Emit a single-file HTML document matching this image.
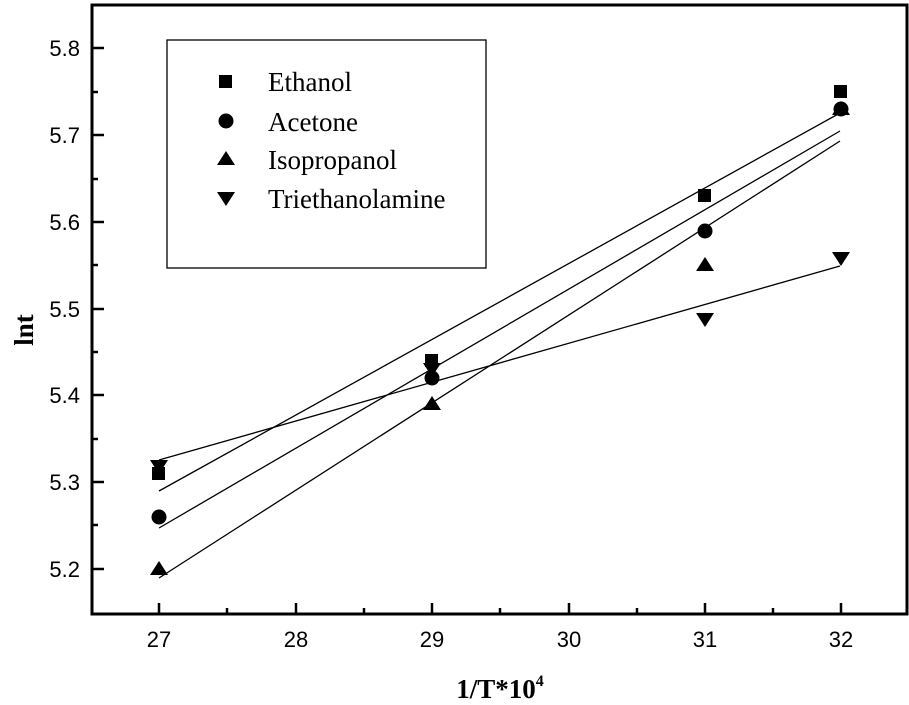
<!DOCTYPE html>
<html><head><style>body{margin:0;background:#fff}svg{display:block}</style></head><body>
<svg width="909" height="705" xmlns="http://www.w3.org/2000/svg">
<rect x="92" y="5" width="815" height="609" fill="none" stroke="#000" stroke-width="3"/>
<g stroke="#000" stroke-width="2.5">
<line x1="159" y1="614" x2="159" y2="603"/><line x1="296" y1="614" x2="296" y2="603"/><line x1="432" y1="614" x2="432" y2="603"/><line x1="569" y1="614" x2="569" y2="603"/><line x1="705" y1="614" x2="705" y2="603"/><line x1="841" y1="614" x2="841" y2="603"/>
<line x1="227" y1="614" x2="227" y2="608"/><line x1="364" y1="614" x2="364" y2="608"/><line x1="500" y1="614" x2="500" y2="608"/><line x1="637" y1="614" x2="637" y2="608"/><line x1="773" y1="614" x2="773" y2="608"/>
<line x1="92" y1="569" x2="104" y2="569"/><line x1="92" y1="482" x2="104" y2="482"/><line x1="92" y1="395" x2="104" y2="395"/><line x1="92" y1="309" x2="104" y2="309"/><line x1="92" y1="222" x2="104" y2="222"/><line x1="92" y1="135" x2="104" y2="135"/><line x1="92" y1="48" x2="104" y2="48"/>
<line x1="92" y1="525" x2="98" y2="525"/><line x1="92" y1="439" x2="98" y2="439"/><line x1="92" y1="352" x2="98" y2="352"/><line x1="92" y1="265" x2="98" y2="265"/><line x1="92" y1="179" x2="98" y2="179"/><line x1="92" y1="92" x2="98" y2="92"/>
</g>
<g font-family="Liberation Sans, sans-serif" font-size="22" text-anchor="middle">
<text x="159" y="647">27</text><text x="296" y="647">28</text><text x="432" y="647">29</text><text x="569" y="647">30</text><text x="705" y="647">31</text><text x="841" y="647">32</text>
</g>
<g font-family="Liberation Sans, sans-serif" font-size="22" text-anchor="end">
<text x="80" y="577">5.2</text><text x="80" y="490">5.3</text><text x="80" y="403">5.4</text><text x="80" y="317">5.5</text><text x="80" y="230">5.6</text><text x="80" y="143">5.7</text><text x="80" y="56">5.8</text>
</g>
<text x="500" y="698" font-family="Liberation Serif, serif" font-weight="bold" font-size="27" text-anchor="middle">1/T*10<tspan font-size="16" dy="-12">4</tspan></text>
<text transform="translate(33,330) rotate(-90)" font-family="Liberation Serif, serif" font-weight="bold" font-size="27" text-anchor="middle">lnt</text>
<g stroke="#000" stroke-width="1.3">
<line x1="159" y1="491" x2="840" y2="113"/>
<line x1="159" y1="528" x2="840" y2="131"/>
<line x1="159" y1="578" x2="840" y2="141"/>
<line x1="159" y1="460" x2="840" y2="266"/>
</g>
<g fill="#000">
<rect x="152" y="467" width="13" height="13"/><rect x="425" y="354" width="13" height="13"/><rect x="698" y="189" width="13" height="13"/><rect x="834" y="85" width="13" height="13"/>
<circle cx="159" cy="517" r="7.5"/><circle cx="432" cy="378" r="7.5"/><circle cx="705" cy="231" r="7.5"/><circle cx="841" cy="109" r="7.5"/>
<polygon points="159,561 150,575 168,575"/><polygon points="432,396 423,410 441,410"/><polygon points="705,257 696,271 714,271"/><polygon points="841,101 832,115 850,115"/>
<polygon points="150,460 168,460 159,474"/><polygon points="423,363 441,363 432,377"/><polygon points="696,313 714,313 705,327"/><polygon points="832,252 850,252 841,266"/>
</g>
<rect x="167" y="40" width="319" height="228" fill="none" stroke="#000" stroke-width="1.3"/>
<g fill="#000">
<rect x="219" y="75" width="13" height="13"/>
<circle cx="226" cy="121" r="7.5"/>
<polygon points="226,151 217,165 235,165"/>
<polygon points="217,192 235,192 226,206"/>
</g>
<g font-family="Liberation Serif, serif" font-size="27">
<text x="268" y="91">Ethanol</text><text x="268" y="131">Acetone</text><text x="268" y="169">Isopropanol</text><text x="268" y="208">Triethanolamine</text>
</g>
</svg>
</body></html>
